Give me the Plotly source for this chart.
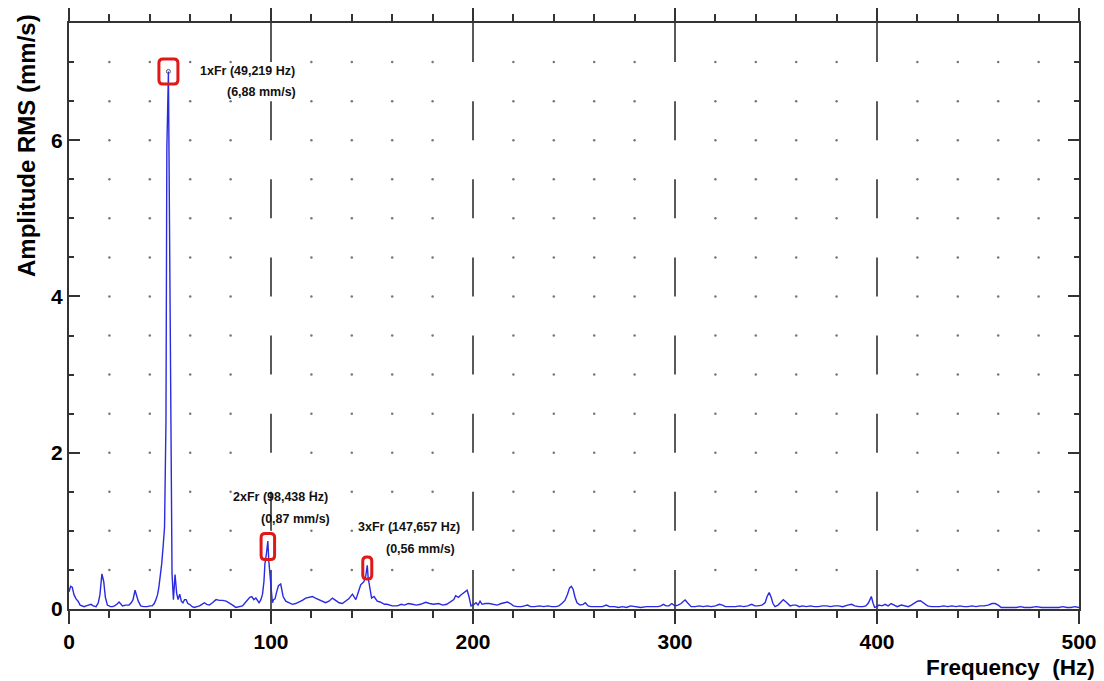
import plotly.graph_objects as go

# ---------------- data ----------------
freq_hz = [
    0.0, 0.8, 1.6, 2.5, 3.5, 4.5, 5.5, 6.5, 7.5, 8.5,
    9.5, 10.9, 12.0, 13.4, 14.5, 15.3, 16.3, 17.2, 18.0, 19.0,
    20.5, 21.5, 22.5, 23.7, 24.8, 25.6, 26.5, 28.0, 29.7, 30.8,
    31.7, 32.7, 33.5, 34.3, 35.5, 37.0, 38.8, 40.0, 41.2, 42.2,
    42.9, 43.8, 44.5, 45.3, 45.9, 46.6, 47.3, 48.0, 48.44, 49.219,
    50.0, 50.5, 51.0, 51.7, 52.5, 53.3, 54.0, 54.8, 55.6, 56.4,
    57.2, 58.0, 58.8, 59.7, 61.0, 62.0, 63.3, 64.6, 65.8, 67.0,
    68.2, 69.5, 71.0, 72.8, 74.5, 76.0, 77.8, 79.4, 81.0, 82.6,
    84.2, 85.9, 87.2, 88.4, 89.5, 90.5, 91.5, 92.5, 93.3, 94.1,
    95.0, 95.8, 96.5, 97.0, 97.7, 98.438, 98.9, 99.4, 100.0, 100.7,
    101.3, 102.0, 102.8, 103.7, 104.8, 105.5, 106.0, 107.3, 108.8, 110.6,
    112.2, 113.9, 115.5, 117.2, 118.8, 120.5, 122.0, 123.8, 125.5, 127.0,
    128.7, 130.4, 132.0, 133.7, 135.3, 137.0, 138.5, 140.3, 141.2, 142.0,
    143.3, 144.4, 145.2, 146.0, 146.9, 147.657, 148.1, 148.5, 149.2, 149.8,
    151.0, 152.6, 154.0, 155.0, 156.2, 157.5, 159.0, 160.0, 162.5, 164.5,
    166.0, 168.0, 170.0, 172.0, 174.0, 176.6, 178.5, 180.5, 183.0, 185.0,
    187.0, 189.0, 190.5, 191.4, 192.8, 194.0, 195.5, 196.5, 197.1, 198.0,
    199.0, 200.5, 201.5, 202.5, 203.5, 204.5, 206.0, 208.0, 210.0, 212.0,
    214.0, 216.0, 217.0, 218.5, 220.0, 222.0, 224.0, 225.5, 227.0, 228.5,
    230.5, 233.0, 235.0, 237.0, 239.0, 241.0, 242.5, 244.0, 245.5, 246.8,
    247.8, 248.7, 249.6, 250.5, 251.5, 253.0, 254.5, 255.6, 257.0, 258.5,
    260.0, 262.0, 264.0, 266.0, 267.5, 270.0, 272.0, 274.0, 276.0, 278.0,
    280.0, 283.0, 286.0, 289.0, 291.5, 293.0, 294.3, 295.5, 297.0, 298.4,
    300.0, 301.5, 303.0, 304.2, 305.0, 306.2, 307.2, 308.0, 310.0, 312.0,
    314.0, 316.0, 318.0, 320.0, 322.0, 323.5, 325.0, 327.0, 330.0, 332.0,
    334.0, 336.0, 338.0, 339.5, 341.0, 343.0, 344.6, 345.6, 346.6, 347.6,
    348.5, 349.5, 351.0, 352.5, 353.6, 355.0, 356.0, 357.0, 358.5, 360.0,
    361.5, 363.0, 365.0, 367.0, 369.0, 371.0, 373.0, 375.0, 377.0, 379.0,
    381.0, 383.0, 385.5, 387.4, 389.0, 391.0, 393.0, 394.5, 395.8, 397.2,
    398.0, 398.8, 400.0, 401.0, 402.5, 404.0, 405.5, 407.0, 408.5, 410.0,
    412.0, 414.0, 415.5, 417.0, 418.5, 420.0, 421.5, 423.0, 425.0, 427.0,
    429.0, 431.0, 433.0, 435.0, 437.0, 439.0, 441.0, 443.0, 445.0, 447.0,
    449.0, 451.0, 453.0, 455.0, 457.0, 458.5, 460.0, 461.5, 463.0, 466.0,
    469.0, 471.0, 473.0, 476.0, 479.0, 481.5, 484.0, 486.0, 488.0, 490.0,
    492.0, 494.0, 496.0, 498.0, 500.0,
]
amp_mm_s = [
    0.22, 0.29, 0.28, 0.18, 0.13, 0.10, 0.05, 0.04, 0.03, 0.04,
    0.05, 0.06, 0.04, 0.03, 0.08, 0.18, 0.45, 0.35, 0.15, 0.05,
    0.03, 0.03, 0.04, 0.06, 0.09, 0.06, 0.04, 0.05, 0.05, 0.08,
    0.12, 0.24, 0.18, 0.10, 0.04, 0.03, 0.03, 0.04, 0.04, 0.07,
    0.11, 0.18, 0.28, 0.42, 0.58, 0.80, 1.05, 2.40, 5.90, 6.88,
    4.10, 1.20, 0.45, 0.12, 0.44, 0.20, 0.12, 0.19, 0.10, 0.08,
    0.12, 0.12, 0.07, 0.06, 0.03, 0.02, 0.03, 0.04, 0.06, 0.08,
    0.06, 0.05, 0.08, 0.12, 0.11, 0.11, 0.10, 0.08, 0.05, 0.02,
    0.03, 0.04, 0.08, 0.12, 0.15, 0.16, 0.12, 0.14, 0.11, 0.08,
    0.12, 0.19, 0.35, 0.58, 0.70, 0.87, 0.62, 0.49, 0.24, 0.08,
    0.12, 0.13, 0.22, 0.30, 0.32, 0.22, 0.16, 0.10, 0.08, 0.06,
    0.07, 0.09, 0.11, 0.14, 0.15, 0.16, 0.14, 0.12, 0.10, 0.08,
    0.10, 0.14, 0.11, 0.08, 0.07, 0.10, 0.13, 0.19, 0.15, 0.12,
    0.22, 0.31, 0.33, 0.35, 0.42, 0.56, 0.40, 0.33, 0.25, 0.14,
    0.16, 0.10, 0.09, 0.08, 0.06, 0.06, 0.05, 0.04, 0.04, 0.06,
    0.05, 0.07, 0.06, 0.05, 0.06, 0.085, 0.07, 0.06, 0.07, 0.05,
    0.06, 0.09, 0.12, 0.17, 0.15, 0.18, 0.21, 0.22, 0.24, 0.16,
    0.04, 0.06, 0.08, 0.05, 0.10, 0.06, 0.07, 0.07, 0.06, 0.05,
    0.07, 0.08, 0.09, 0.07, 0.04, 0.03, 0.03, 0.04, 0.05, 0.03,
    0.03, 0.04, 0.03, 0.04, 0.03, 0.03, 0.04, 0.07, 0.11, 0.19,
    0.27, 0.29, 0.25, 0.15, 0.08, 0.05, 0.06, 0.08, 0.04, 0.03,
    0.03, 0.03, 0.03, 0.05, 0.03, 0.03, 0.02, 0.03, 0.02, 0.04,
    0.03, 0.02, 0.03, 0.03, 0.03, 0.04, 0.06, 0.04, 0.04, 0.07,
    0.04, 0.05, 0.07, 0.10, 0.115, 0.08, 0.05, 0.03, 0.03, 0.04,
    0.03, 0.04, 0.03, 0.04, 0.06, 0.05, 0.03, 0.03, 0.03, 0.04,
    0.03, 0.04, 0.06, 0.04, 0.04, 0.05, 0.08, 0.16, 0.21, 0.15,
    0.07, 0.03, 0.05, 0.09, 0.12, 0.09, 0.06, 0.04, 0.05, 0.05,
    0.03, 0.04, 0.03, 0.04, 0.03, 0.03, 0.04, 0.04, 0.03, 0.04,
    0.04, 0.03, 0.05, 0.06, 0.04, 0.03, 0.03, 0.04, 0.08, 0.16,
    0.08, 0.02, 0.03, 0.05, 0.04, 0.06, 0.04, 0.07, 0.05, 0.03,
    0.05, 0.04, 0.03, 0.05, 0.08, 0.10, 0.105, 0.08, 0.04, 0.03,
    0.03, 0.03, 0.04, 0.03, 0.04, 0.03, 0.04, 0.03, 0.03, 0.04,
    0.03, 0.04, 0.04, 0.05, 0.07, 0.07, 0.05, 0.02, 0.02, 0.02,
    0.02, 0.03, 0.02, 0.02, 0.03, 0.02, 0.02, 0.02, 0.02, 0.02,
    0.03, 0.02, 0.02, 0.03, 0.02,
]
assert len(freq_hz) == len(amp_mm_s)

peak_names = ["1xFr", "2xFr", "3xFr"]
peak_freq_hz = [49.219, 98.438, 147.657]
peak_amp_mm_s = [6.88, 0.87, 0.56]

x_ticks = [0, 100, 200, 300, 400, 500]
y_ticks = [0, 2, 4, 6]
x_range = [0, 500]
y_range = [0, 7.5]

# ---------------- layout constants ----------------
W, H = 1104, 681
ML, MR, MT, MB = 69, 25, 23, 72
PW, PH = W - ML - MR, H - MT - MB

def paper_x(px):
    return (px - ML) / PW

def paper_y(py):
    return (H - MB - py) / PH

AXC = "#333333"
BOLD_SANS = "Liberation Sans, Arial, sans-serif"

fig = go.Figure()

# dotted grid (intersection dots every 20 Hz x 0.5 mm/s)
dot_x, dot_y = [], []
for i in range(1, 25):
    xv = i * 20
    if xv % 100 == 0:
        continue
    for j in range(1, 15):
        dot_x.append(xv)
        dot_y.append(j * 0.5)
fig.add_trace(go.Scatter(x=dot_x, y=dot_y, mode="markers",
                         marker=dict(size=2.5, color="#777777"),
                         hoverinfo="skip", showlegend=False))

# spectrum
fig.add_trace(go.Scatter(x=freq_hz, y=amp_mm_s, mode="lines",
                         line=dict(color="#2a2ae0", width=1.4),
                         hoverinfo="skip", showlegend=False))

# small open marker at the fundamental
fig.add_trace(go.Scatter(x=peak_freq_hz[:1], y=peak_amp_mm_s[:1], mode="markers",
                         marker=dict(size=4, color="#555555", symbol="circle-open",
                                     line=dict(width=1)),
                         hoverinfo="skip", showlegend=False))

shapes = []
# dashed major vertical grid lines: dashes on [n, n+0.5]
for xv in x_ticks[1:-1]:
    n = 0
    while n < y_range[1]:
        shapes.append(dict(type="line", xref="x", yref="y", x0=xv, x1=xv,
                           y0=n, y1=min(n + 0.5, y_range[1]),
                           line=dict(color="#222222", width=1.5), layer="below"))
        n += 1

# red rounded boxes around peaks (pixel sized)
box_dims = [(19, 25, 0), (13.5, 26, -5.6), (9, 22, -2.7)]  # w, h, y offset (px, up positive)
for f, a, (bw, bh, oy) in zip(peak_freq_hz, peak_amp_mm_s, box_dims):
    w, h, r = bw / 2, bh / 2, 4
    cx, cy = 0, oy
    path = (f"M {cx-w+r},{cy-h} L {cx+w-r},{cy-h} Q {cx+w},{cy-h} {cx+w},{cy-h+r} "
            f"L {cx+w},{cy+h-r} Q {cx+w},{cy+h} {cx+w-r},{cy+h} "
            f"L {cx-w+r},{cy+h} Q {cx-w},{cy+h} {cx-w},{cy+h-r} "
            f"L {cx-w},{cy-h+r} Q {cx-w},{cy-h} {cx-w+r},{cy-h} Z")
    shapes.append(dict(type="path", xref="x", yref="y", xsizemode="pixel", ysizemode="pixel",
                       xanchor=f, yanchor=a, path=path,
                       line=dict(color="#e01818", width=3), layer="above"))

annotations = []
# peak labels: (line1 xshift, line1 yshift, line2 xshift, line2 yshift)
label_offsets = [(29.4, 0, 57, -20.5), (-37, 44, -9.3, 22.3), (-11.5, 38, 16.8, 15.8)]
for name, f, a, (x1s, y1s, x2s, y2s) in zip(peak_names, peak_freq_hz, peak_amp_mm_s, label_offsets):
    t1 = f"{name} ({f:.3f} Hz)".replace(".", ",")
    t2 = f"({a:.2f} mm/s)".replace(".", ",")
    for txt, xs, ys in ((t1, x1s, y1s), (t2, x2s, y2s)):
        annotations.append(dict(x=f, y=a, xref="x", yref="y", text=txt, showarrow=False,
                                xanchor="left", yanchor="middle", xshift=xs, yshift=ys,
                                font=dict(family=BOLD_SANS, size=12.5, color="#111111",
                                          weight="bold")))

# axis titles
annotations.append(dict(xref="paper", yref="paper", x=paper_x(26), y=paper_y(146),
                        text="Amplitude RMS (mm/s)", textangle=-90, showarrow=False,
                        xanchor="center", yanchor="middle",
                        font=dict(family=BOLD_SANS, size=24, color="#000000", weight="bold")))
annotations.append(dict(xref="paper", yref="paper", x=paper_x(1097), y=paper_y(667),
                        text="Frequency&nbsp;&nbsp;(Hz)", showarrow=False,
                        xanchor="right", yanchor="middle",
                        font=dict(family=BOLD_SANS, size=22.5, color="#000000", weight="bold")))

fig.update_layout(
    width=W, height=H,
    margin=dict(l=ML, r=MR, t=MT, b=MB, pad=0, autoexpand=False),
    paper_bgcolor="white", plot_bgcolor="white",
    showlegend=False,
    shapes=shapes, annotations=annotations,
    xaxis=dict(range=x_range, tickvals=x_ticks, showgrid=False, zeroline=False,
               showline=True, linecolor=AXC, linewidth=2, mirror="allticks",
               ticks="outside", ticklen=13, tickwidth=1.5, tickcolor=AXC,
               automargin=False,
               minor=dict(dtick=20, ticks="outside", ticklen=7, tickwidth=1.5,
                          tickcolor=AXC, showgrid=False),
               tickfont=dict(family=BOLD_SANS, size=21, color="#000000", weight="bold")),
    yaxis=dict(range=y_range, tickvals=y_ticks, showgrid=False, zeroline=False,
               showline=True, linecolor=AXC, linewidth=2, mirror="allticks",
               ticks="inside", ticklen=11, tickwidth=1.5, tickcolor=AXC,
               automargin=False,
               minor=dict(dtick=0.5, ticks="inside", ticklen=5, tickwidth=1.5,
                          tickcolor=AXC, showgrid=False),
               tickfont=dict(family=BOLD_SANS, size=21, color="#000000", weight="bold")),
)

fig.write_html("out.html", config={"displayModeBar": False},
               post_script="document.body.style.margin='0px';document.body.style.overflow='hidden';")
